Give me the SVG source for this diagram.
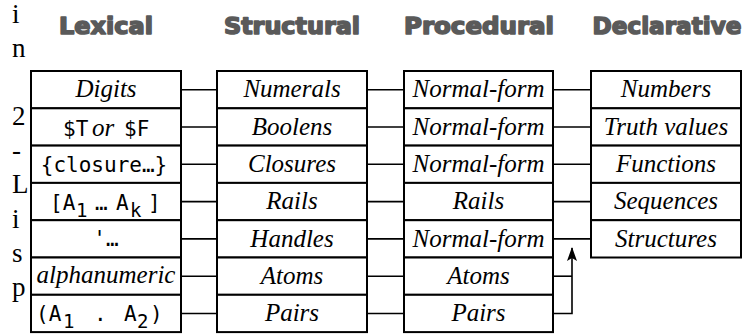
<svg xmlns="http://www.w3.org/2000/svg" width="746" height="335" viewBox="0 0 746 335">
  <style>
    .hd { font-family: "DejaVu Sans", "Liberation Sans", sans-serif; font-weight: bold; font-size: 23px; fill: #5a5a5a; stroke: #5a5a5a; stroke-width: 1.6; stroke-linejoin: round; text-anchor: middle; }
    .cell { fill: #ffffff; stroke: #000000; stroke-width: 2; }
    .t { font-family: "Liberation Serif", "DejaVu Serif", serif; font-style: italic; font-size: 25px; fill: #000000; text-anchor: middle; }
    .m { font-family: "DejaVu Sans Mono", "Liberation Mono", monospace; font-size: 21px; fill: #000000; }
    .side { font-family: "Liberation Serif", "DejaVu Serif", serif; font-size: 27px; fill: #000000; }
    .wire { fill: none; stroke: #000000; stroke-width: 1.6; }
  </style>
  <defs>
    <marker id="arrowhead" viewBox="0 0 14 10" refX="13" refY="5" markerWidth="14" markerHeight="10" markerUnits="userSpaceOnUse" orient="auto">
      <path d="M0,0 L14,5 L0,10 L3,5 Z" fill="#000000"/>
    </marker>
  </defs>

  <rect width="746" height="335" fill="#ffffff"/>

  <!-- vertical caption -->
  <g id="caption" class="side">
    <text x="12" y="23">i</text>
    <text x="12" y="57">n</text>
    <text x="12" y="125">2</text>
    <text x="12" y="159">-</text>
    <text x="12" y="193">L</text>
    <text x="12" y="228">i</text>
    <text x="12" y="262">s</text>
    <text x="12" y="296">p</text>
  </g>

  <!-- column headings -->
  <g id="headings">
    <text class="hd" x="106" y="34" textLength="94" lengthAdjust="spacingAndGlyphs">Lexical</text>
    <text class="hd" x="292" y="34" textLength="136" lengthAdjust="spacingAndGlyphs">Structural</text>
    <text class="hd" x="479" y="34" textLength="150" lengthAdjust="spacingAndGlyphs">Procedural</text>
    <text class="hd" x="667" y="34" textLength="149" lengthAdjust="spacingAndGlyphs">Declarative</text>
  </g>

  <!-- connectors -->
  <g id="connectors" class="wire">
    <!-- lexical to structural -->
    <line x1="181" y1="89.7" x2="217" y2="89.7"/>
    <line x1="181" y1="127" x2="217" y2="127"/>
    <line x1="181" y1="164.3" x2="217" y2="164.3"/>
    <line x1="181" y1="201.6" x2="217" y2="201.6"/>
    <line x1="181" y1="238.9" x2="217" y2="238.9"/>
    <line x1="181" y1="276.2" x2="217" y2="276.2"/>
    <line x1="181" y1="313.5" x2="217" y2="313.5"/>
    <!-- structural to procedural -->
    <line x1="367" y1="89.7" x2="404" y2="89.7"/>
    <line x1="367" y1="127" x2="404" y2="127"/>
    <line x1="367" y1="164.3" x2="404" y2="164.3"/>
    <line x1="367" y1="201.6" x2="404" y2="201.6"/>
    <line x1="367" y1="238.9" x2="404" y2="238.9"/>
    <line x1="367" y1="276.2" x2="404" y2="276.2"/>
    <line x1="367" y1="313.5" x2="404" y2="313.5"/>
    <!-- procedural to declarative -->
    <line x1="553" y1="89.7" x2="591" y2="89.7"/>
    <line x1="553" y1="127" x2="591" y2="127"/>
    <line x1="553" y1="164.3" x2="591" y2="164.3"/>
    <line x1="553" y1="201.6" x2="591" y2="201.6"/>
    <line x1="553" y1="238.9" x2="591" y2="238.9"/>
    <!-- atoms and pairs denote structures -->
    <line x1="553" y1="276.2" x2="572" y2="276.2"/>
    <path d="M553,313.5 H572 V248" marker-end="url(#arrowhead)"/>
  </g>

  <!-- Lexical column -->
  <g id="lexical">
    <g id="lex-digits"><rect class="cell" x="31" y="71" width="150" height="37.3"/><text class="t" x="106" y="97">Digits</text></g>
    <g id="lex-bool"><rect class="cell" x="31" y="108.3" width="150" height="37.3"/>
      <text y="136"><tspan class="m" x="63">$T</tspan><tspan class="t" x="103">or</tspan><tspan class="m" x="124">$F</tspan></text></g>
    <g id="lex-closure"><rect class="cell" x="31" y="145.6" width="150" height="37.3"/><text class="m" x="104" y="172" text-anchor="middle">{closure…}</text></g>
    <g id="lex-rail"><rect class="cell" x="31" y="182.9" width="150" height="37.3"/>
      <text class="m" y="210"><tspan x="50">[A</tspan><tspan x="76" dy="6.5" font-size="19">1</tspan><tspan x="95" dy="-6.5">…</tspan><tspan x="116">A</tspan><tspan x="130" dy="6.5" font-size="19">k</tspan><tspan x="148" dy="-6.5">]</tspan></text></g>
    <g id="lex-handle"><rect class="cell" x="31" y="220.2" width="150" height="37.3"/><text class="m" x="106" y="246" text-anchor="middle">'…</text></g>
    <g id="lex-atom"><rect class="cell" x="31" y="257.5" width="150" height="37.3"/><text class="t" x="106" y="283">alphanumeric</text></g>
    <g id="lex-pair"><rect class="cell" x="31" y="294.8" width="150" height="37.3"/>
      <text class="m" y="321"><tspan x="36">(A</tspan><tspan x="63" dy="6.5" font-size="19">1</tspan><tspan x="94" dy="-6.5">.</tspan><tspan x="124">A</tspan><tspan x="137" dy="6.5" font-size="19">2</tspan><tspan x="150" dy="-6.5">)</tspan></text></g>
  </g>

  <!-- Structural column -->
  <g id="structural">
    <g id="str-numerals"><rect class="cell" x="217" y="71" width="150" height="37.3"/><text class="t" x="292" y="97">Numerals</text></g>
    <g id="str-booleans"><rect class="cell" x="217" y="108.3" width="150" height="37.3"/><text class="t" x="292" y="134.5">Boolens</text></g>
    <g id="str-closures"><rect class="cell" x="217" y="145.6" width="150" height="37.3"/><text class="t" x="292" y="172">Closures</text></g>
    <g id="str-rails"><rect class="cell" x="217" y="182.9" width="150" height="37.3"/><text class="t" x="292" y="209">Rails</text></g>
    <g id="str-handles"><rect class="cell" x="217" y="220.2" width="150" height="37.3"/><text class="t" x="292" y="246.5">Handles</text></g>
    <g id="str-atoms"><rect class="cell" x="217" y="257.5" width="150" height="37.3"/><text class="t" x="292" y="283.5">Atoms</text></g>
    <g id="str-pairs"><rect class="cell" x="217" y="294.8" width="150" height="37.3"/><text class="t" x="292" y="321">Pairs</text></g>
  </g>

  <!-- Procedural column -->
  <g id="procedural">
    <g id="proc-numeral"><rect class="cell" x="404" y="71" width="149" height="37.3"/><text class="t" x="478.5" y="97">Normal-form</text></g>
    <g id="proc-boolean"><rect class="cell" x="404" y="108.3" width="149" height="37.3"/><text class="t" x="478.5" y="134.5">Normal-form</text></g>
    <g id="proc-closure"><rect class="cell" x="404" y="145.6" width="149" height="37.3"/><text class="t" x="478.5" y="172">Normal-form</text></g>
    <g id="proc-rails"><rect class="cell" x="404" y="182.9" width="149" height="37.3"/><text class="t" x="478.5" y="209">Rails</text></g>
    <g id="proc-handle"><rect class="cell" x="404" y="220.2" width="149" height="37.3"/><text class="t" x="478.5" y="246.5">Normal-form</text></g>
    <g id="proc-atoms"><rect class="cell" x="404" y="257.5" width="149" height="37.3"/><text class="t" x="478.5" y="283.5">Atoms</text></g>
    <g id="proc-pairs"><rect class="cell" x="404" y="294.8" width="149" height="37.3"/><text class="t" x="478.5" y="321">Pairs</text></g>
  </g>

  <!-- Declarative column -->
  <g id="declarative">
    <g id="decl-numbers"><rect class="cell" x="591" y="71" width="150" height="37.3"/><text class="t" x="666" y="97">Numbers</text></g>
    <g id="decl-truth"><rect class="cell" x="591" y="108.3" width="150" height="37.3"/><text class="t" x="666" y="134.5">Truth values</text></g>
    <g id="decl-functions"><rect class="cell" x="591" y="145.6" width="150" height="37.3"/><text class="t" x="666" y="172">Functions</text></g>
    <g id="decl-sequences"><rect class="cell" x="591" y="182.9" width="150" height="37.3"/><text class="t" x="666" y="209">Sequences</text></g>
    <g id="decl-structures"><rect class="cell" x="591" y="220.2" width="150" height="37.3"/><text class="t" x="666" y="246.5">Structures</text></g>
  </g>
</svg>
